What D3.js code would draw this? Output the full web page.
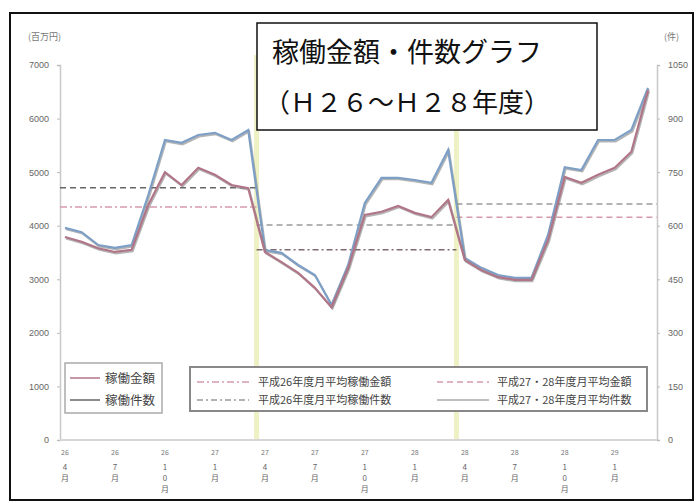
<!DOCTYPE html>
<meta charset="utf-8">
<title>稼働金額・件数グラフ</title>
<style>
  body { margin: 0; background: #fff; }
  svg { font-family: "Noto Sans CJK JP", "Noto Sans", sans-serif; }
</style>
<body>
<div id="chart"></div>
<script src="https://d3js.org/d3.v7.min.js"></script>
<script>

// 月（H26年4月〜H29年3月）
var months = d3.range(36);

// 稼働金額（百万円）
var amount = [3790, 3700, 3580, 3510, 3550, 4390, 5000, 4760, 5080, 4950, 4760, 4700,
              3510, 3320, 3120, 2840, 2480, 3210, 4200, 4260, 4370, 4240, 4160, 4480,
              3360, 3170, 3040, 2990, 2990, 3730, 4910, 4800, 4950, 5080, 5380, 6530];
// 稼働件数（件）
var count = [594, 582, 546, 538, 546, 686, 840, 832, 854, 860, 840, 868,
             532, 524, 490, 462, 378, 490, 664, 734, 734, 728, 720, 812,
             510, 482, 462, 454, 454, 574, 764, 756, 840, 840, 868, 986];

// 年度ごとの月平均
var fiscalYears = ["H26", "H27", "H28"];
var avgAmount = [4350, 3550, 4160];
var avgCount = [706, 602, 661];

// 軸目盛
var leftTicks = [0, 1000, 2000, 3000, 4000, 5000, 6000, 7000];
var rightTicks = [0, 150, 300, 450, 600, 750, 900, 1050];
var tickMonthIdx = [0, 3, 6, 9, 12, 15, 18, 21, 24, 27, 30, 33];
var tickYears = ["26", "26", "26", "27", "27", "27", "27", "28", "28", "28", "28", "29"];
var tickMonths = ["4月", "7月", "10月", "1月", "4月", "7月", "10月", "1月", "4月", "7月", "10月", "1月"];

var legendMain = ["稼働金額", "稼働件数"];
var legendAvg = ["平成26年度月平均稼働金額", "平成26年度月平均稼働件数",
                 "平成27・28年度月平均金額", "平成27・28年度月平均件数"];

var W = 696, H = 503;
var colAmount = "#b07586", colCount = "#7d9fc6";

var svg = d3.select("#chart").append("svg")
    .attr("width", W).attr("height", H);

// 外枠
svg.append("rect")
    .attr("x", 10).attr("y", 13).attr("width", 683).attr("height", 487)
    .attr("fill", "#fff").attr("stroke", "#111").attr("stroke-width", 2);

var x = d3.scalePoint().domain(months).range([65, 648]);
var yL = d3.scaleLinear().domain([0, 7000]).range([440, 65]);
var yR = d3.scaleLinear().domain([0, 1050]).range([440, 65]);
var step = x.step();

// 年度区切り（黄色）
[11, 23].forEach(function(m) {
  svg.append("line")
      .attr("x1", x(m) + step / 2).attr("x2", x(m) + step / 2)
      .attr("y1", 55).attr("y2", 440)
      .attr("stroke", "#eef1c4").attr("stroke-width", 5);
});

// 軸
var axL = svg.append("g").attr("transform", "translate(60,0)")
    .call(d3.axisLeft(yL).tickValues(leftTicks).tickSize(3).tickPadding(8).tickFormat(d3.format("d")));
var axR = svg.append("g").attr("transform", "translate(657,0)")
    .call(d3.axisRight(yR).tickValues(rightTicks).tickSize(3).tickPadding(8).tickFormat(d3.format("d")));
[axL, axR].forEach(function(a) {
  a.select(".domain").attr("stroke", "#c8c8c8").attr("stroke-width", 1.5);
  a.selectAll(".tick line").attr("stroke", "#bbb");
  a.selectAll(".tick text").attr("fill", "#666").attr("font-size", 9);
});

svg.append("line").attr("x1", 60).attr("x2", 657).attr("y1", 440).attr("y2", 440)
    .attr("stroke", "#d6d6d6").attr("stroke-width", 2);

svg.append("text").attr("x", 28).attr("y", 40).attr("font-size", 9).attr("fill", "#777").text("(百万円)");
svg.append("text").attr("x", 664).attr("y", 40).attr("font-size", 9).attr("fill", "#777").text("(件)");

// 月ラベル（縦書き）
tickMonthIdx.forEach(function(m, i) {
  var g = svg.append("g").attr("transform", "translate(" + x(m) + ",0)");
  g.append("text").attr("y", 455).attr("text-anchor", "middle")
      .attr("font-size", 7).attr("fill", "#777").text(tickYears[i]);
  tickMonths[i].split("").forEach(function(c, j) {
    g.append("text").attr("y", 470 + j * 11).attr("text-anchor", "middle")
        .attr("font-size", 8).attr("fill", "#666").text(c);
  });
});

// 年度平均線
var avgStyle = [
  {a: {c: "#d59aaa", d: "7,3,2,3"}, n: {c: "#666", d: "6,4"}},
  {a: {c: "#806870", d: "6,3,2,3"}, n: {c: "#9a9a9a", d: "6,4"}},
  {a: {c: "#d59aaa", d: "6,4"}, n: {c: "#9a9a9a", d: "6,4"}}
];
fiscalYears.forEach(function(fy, i) {
  var x0 = i === 0 ? 60 : x(i * 12) - step / 2;
  var x1 = i === 2 ? 657 : x(i * 12 + 11) + step / 2;
  svg.append("line").attr("x1", x0).attr("x2", x1)
      .attr("y1", yR(avgCount[i])).attr("y2", yR(avgCount[i]))
      .attr("stroke", avgStyle[i].n.c).attr("stroke-width", 1.5)
      .attr("stroke-dasharray", avgStyle[i].n.d);
  svg.append("line").attr("x1", x0).attr("x2", x1)
      .attr("y1", yL(avgAmount[i])).attr("y2", yL(avgAmount[i]))
      .attr("stroke", avgStyle[i].a.c).attr("stroke-width", 1.5)
      .attr("stroke-dasharray", avgStyle[i].a.d);
});

// 実績線
var lineL = d3.line().x(function(d, i) { return x(i); }).y(function(d) { return yL(d); });
var lineR = d3.line().x(function(d, i) { return x(i); }).y(function(d) { return yR(d); });

[[count, lineR, colCount], [amount, lineL, colAmount]].forEach(function(s) {
  svg.append("path").datum(s[0]).attr("d", s[1])
      .attr("fill", "none").attr("stroke", "#777").attr("stroke-width", 2)
      .attr("opacity", 0.55).attr("transform", "translate(1,1.5)");
  svg.append("path").datum(s[0]).attr("d", s[1])
      .attr("fill", "none").attr("stroke", s[2]).attr("stroke-width", 2.2);
});

// 凡例（実績）
var lg1 = svg.append("g");
lg1.append("rect").attr("x", 65).attr("y", 363).attr("width", 97).attr("height", 50)
    .attr("fill", "#fff").attr("stroke", "#aaa").attr("stroke-width", 1.5);
legendMain.forEach(function(t, i) {
  var yy = 378 + i * 22;
  lg1.append("line").attr("x1", 70).attr("x2", 100).attr("y1", yy).attr("y2", yy)
      .attr("stroke", i === 0 ? colAmount : "#666").attr("stroke-width", 1.5);
  lg1.append("text").attr("x", 105).attr("y", yy + 4.5).attr("font-size", 12.5)
      .attr("fill", "#444").text(t);
});

// 凡例（平均）
var lg2 = svg.append("g");
lg2.append("rect").attr("x", 190).attr("y", 367).attr("width", 457).attr("height", 44)
    .attr("fill", "#fff").attr("stroke", "#888").attr("stroke-width", 2);
var avgLegStyle = [avgStyle[0].a, {c: "#999", d: "6,3,2,3"}, avgStyle[2].a, {c: "#aaa", d: null}];
legendAvg.forEach(function(t, i) {
  var col = Math.floor(i / 2), row = i % 2;
  var lx = col === 0 ? 197 : 437, tx = col === 0 ? 258 : 497;
  var yy = 382 + row * 18;
  lg2.append("line").attr("x1", lx).attr("x2", lx + 52).attr("y1", yy).attr("y2", yy)
      .attr("stroke", avgLegStyle[i].c).attr("stroke-width", 1.5)
      .attr("stroke-dasharray", avgLegStyle[i].d);
  lg2.append("text").attr("x", tx).attr("y", yy + 4).attr("font-size", 11)
      .attr("fill", "#444").text(t);
});

// タイトル
svg.append("rect").attr("x", 257).attr("y", 23).attr("width", 340).attr("height", 107)
    .attr("fill", "#fff").attr("stroke", "#111").attr("stroke-width", 1.5);
svg.append("text").attr("x", 272).attr("y", 62).attr("font-size", 27).attr("fill", "#111")
    .text("稼働金額・件数グラフ");
svg.append("text").attr("x", 264).attr("y", 112).attr("font-size", 26).attr("fill", "#111")
    .text("（Ｈ２６～Ｈ２８年度）");

</script>
</body>
